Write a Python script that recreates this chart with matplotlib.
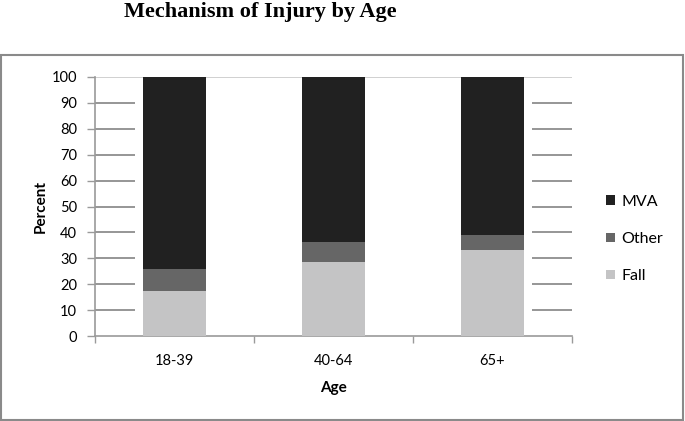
import matplotlib.pyplot as plt
from matplotlib.patches import Rectangle

# data (percent)
ages = ["18-39", "40-64", "65+"]
fall = [17.2, 28.6, 33.3]
other = [8.8, 7.6, 5.7]
mva = [74.0, 63.8, 61.0]
yticks = [0, 10, 20, 30, 40, 50, 60, 70, 80, 90, 100]

c_mva = "#212121"
c_other = "#666666"
c_fall = "#c4c4c5"
axis_gray = "#9a9a9a"
grid_gray = "#8e8e8e"

plt.rcParams["font.family"] = ["Lato", "DejaVu Sans"]

fig = plt.figure(figsize=(6.85, 4.21), dpi=100)
ax = fig.add_axes([95 / 685, 1 - 336 / 421, 477 / 685, 259 / 421])

x = list(range(len(ages)))
bottom_other = fall
bottom_mva = [f + o for f, o in zip(fall, other)]

b_fall = ax.bar(x, fall, width=0.4, color=c_fall, zorder=3, label="Fall")
b_other = ax.bar(x, other, width=0.4, bottom=bottom_other, color=c_other, zorder=3, label="Other")
b_mva = ax.bar(x, mva, width=0.4, bottom=bottom_mva, color=c_mva, zorder=3, label="MVA")

ax.set_xlim(-0.5, 2.5)
ax.set_ylim(0, 100)

# gridlines only show at the edges in the original
for t in yticks[1:-1]:
    ax.hlines(t, -0.5, -0.25, color=grid_gray, lw=1.3, zorder=1)
    ax.hlines(t, 2.25, 2.5, color=grid_gray, lw=1.3, zorder=1)
ax.hlines(100, -0.5, 2.5, color="#c8c8c8", lw=1.2, zorder=1)

ax.set_yticks(yticks)
ax.set_xticks(x)
ax.set_xticklabels(ages)
ax.set_xticks([-0.5, 0.5, 1.5, 2.5], minor=True)
ax.tick_params(axis="y", labelsize=10.5, length=6, width=1, color=axis_gray, pad=7)
ax.tick_params(axis="x", which="major", length=0, labelsize=10.5, pad=13)
ax.tick_params(axis="x", which="minor", length=5, width=1, color=axis_gray)

for s in ["top", "right"]:
    ax.spines[s].set_visible(False)
for s in ["left", "bottom"]:
    ax.spines[s].set_color(axis_gray)
    ax.spines[s].set_linewidth(1.2)

ax.set_ylabel("Percent", fontsize=11, fontweight="bold", labelpad=3)
ax.set_xlabel("Age", fontsize=11, fontweight="bold", labelpad=9)

leg = fig.legend(handles=[b_mva, b_other, b_fall], labels=["MVA", "Other", "Fall"],
                 loc="center left", bbox_to_anchor=(592 / 685, 1 - 239 / 421),
                 frameon=False, fontsize=11.5, handlelength=0.55, handleheight=0.55,
                 handletextpad=0.4, labelspacing=1.45)

fig.text(260 / 685, 1 - 12 / 421, "Mechanism of Injury by Age", ha="center", va="center",
         fontsize=16, fontweight="bold", family="Liberation Serif")

fig.patches.append(Rectangle((1 / 685, 1 / 421), 682 / 685, 365 / 421, transform=fig.transFigure,
                             fill=False, edgecolor="#8a8a8a", lw=1.5))

fig.savefig("out.png", dpi=100)
